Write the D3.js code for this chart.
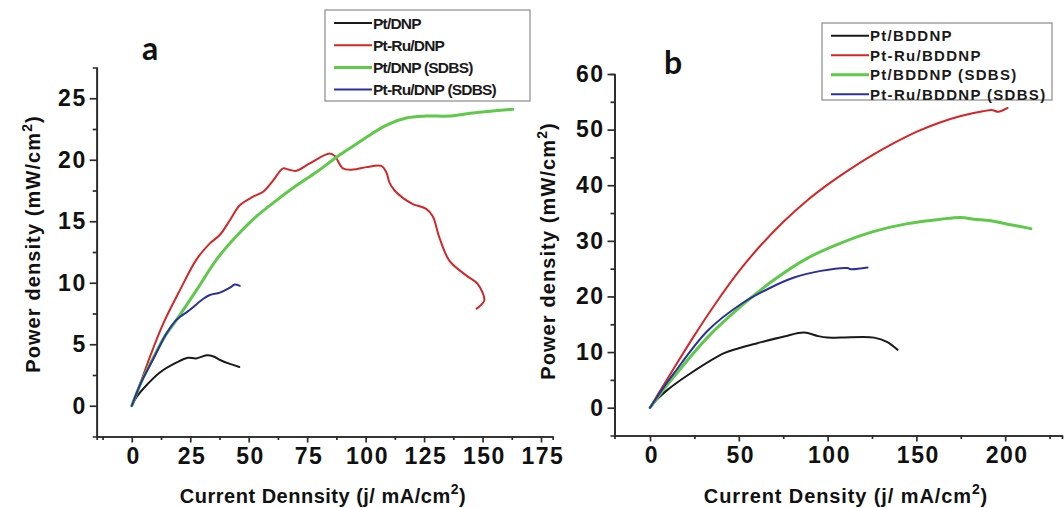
<!DOCTYPE html>
<html>
<head>
<meta charset="utf-8">
<script src="https://cdn.jsdelivr.net/npm/d3@7/dist/d3.min.js"></script>
<style>
  body { margin: 0; background: #fff; }
  svg { display: block; }
  .axis path, .axis line { stroke: #2a2a2a; stroke-width: 1.7; }
  .axis text { font-family: 'Liberation Sans', Arial, sans-serif; font-weight: bold; fill: #111; letter-spacing: 1.5px; }
</style>
</head>
<body>
<script>
// panel a series, [current density, power density]
const aPt = [[0, 0], [2, 0.7], [5, 1.4], [12, 2.7], [19, 3.5], [24, 3.9], [27.5, 3.85], [32, 4.1], [35, 4.0], [38, 3.7], [42, 3.4], [46, 3.15]]
const aPtRu = [[0, 0], [4, 2], [7.8, 4.0], [13.5, 6.7], [20.6, 9.4], [27.7, 11.9], [33.4, 13.2], [37.7, 13.9], [42, 15.1], [46.2, 16.3],
  [51.9, 17.0], [56.2, 17.4], [60.4, 18.3], [64.7, 19.3], [67, 19.2], [70.4, 19.1], [76.1, 19.7], [84.6, 20.5], [86.8, 20.3],
  [90.3, 19.3], [94.6, 19.2], [100.3, 19.4], [106.7, 19.5], [108.8, 19.0], [110.3, 18.1], [112.4, 17.5], [115.9, 16.9],
  [120.2, 16.4], [125.9, 16.0], [128.7, 15.4], [131.5, 13.7], [135.8, 11.8], [143, 10.6], [147.9, 9.9], [150.8, 8.6],
  [149.4, 8.2], [147.5, 7.9]]
const aPtSdbs = [[0, 0], [4, 1.9], [9.2, 3.9], [14, 5.6], [19.2, 7.0], [27.7, 9.4], [36.3, 11.9], [44.8, 13.8], [53.3, 15.4],
  [61.9, 16.7], [70.4, 17.9], [79, 19.0], [87.5, 20.2], [94.6, 21.1], [101.7, 22.0], [108.8, 22.8], [117.4, 23.4],
  [125.9, 23.55], [135.8, 23.55], [145.8, 23.8], [162.9, 24.1]]
const aPtRuSdbs = [[0, 0], [4, 1.9], [9.2, 3.8], [14.9, 5.9], [19.2, 7.0], [24.9, 7.8], [30.6, 8.7], [33.4, 9.0], [37.7, 9.2],
  [42, 9.6], [44, 9.85], [46.2, 9.75]]

// panel b series
const bPt = [[0, 0], [4, 1.5], [9.8, 3.2], [22.9, 6.2], [41.7, 9.8], [50, 10.7], [60.5, 11.6], [75.5, 12.8], [86.8, 13.5],
  [94.3, 12.9], [99.9, 12.6], [107.4, 12.6], [126.2, 12.6], [133.7, 11.8], [139.4, 10.4]]
const bPtRu = [[0, 0], [5, 2.7], [12.5, 6.6], [25, 13.0], [37.5, 19.0], [50, 24.5], [62.5, 29.25], [75, 33.4], [87.5, 37.0],
  [100, 40.1], [112.5, 42.85], [125, 45.35], [137.5, 47.6], [150, 49.6], [162.5, 51.2], [175, 52.45], [187.5, 53.3],
  [193, 53.5], [196, 53.2], [201.4, 53.9]]
const bPtSdbs = [[0, 0], [6, 2.6], [13.5, 5.6], [32.3, 12.6], [51.1, 18.2], [69.9, 23.0], [88.7, 26.9], [107.4, 29.6],
  [126.2, 31.7], [145, 33.1], [163.8, 33.9], [175, 34.2], [182.5, 33.9], [191.9, 33.6], [201.3, 33.0], [214.5, 32.2]]
const bPtRuSdbs = [[0, 0], [6, 2.9], [13.5, 6.2], [32.3, 13.8], [51.1, 18.6], [66.1, 21.3], [81.1, 23.4], [96.2, 24.6],
  [111.2, 25.1], [113, 24.9], [122.5, 25.2]]

const aNames = ['Pt/DNP', 'Pt-Ru/DNP', 'Pt/DNP (SDBS)', 'Pt-Ru/DNP (SDBS)']
const bNames = ['Pt/BDDNP', 'Pt-Ru/BDDNP', 'Pt/BDDNP (SDBS)', 'Pt-Ru/BDDNP (SDBS)']
const colors = ['#1a1a1a', '#d42626', '#5fc94a', '#2b309e']
const widths = [2, 2, 3, 2]

const aXTicks = [0, 25, 50, 75, 100, 125, 150, 175]
const aXMinor = [-12.5, 12.5, 37.5, 62.5, 87.5, 112.5, 137.5, 162.5]
const aYTicks = [0, 5, 10, 15, 20, 25]
const aYMinor = [2.5, 7.5, 12.5, 17.5, 22.5]
const bXTicks = [0, 50, 100, 150, 200]
const bXMinor = [25, 75, 125, 175, 225]
const bYTicks = [0, 10, 20, 30, 40, 50, 60]
const bYMinor = [5, 15, 25, 35, 45, 55]

const svg = d3.select('body').append('svg')
  .attr('width', 1064)
  .attr('height', 508)

const font = "'Liberation Sans', Arial, sans-serif"

const drawPanel = p => {
  const x = d3.scaleLinear().domain(p.xDomain).range(p.xRange)
  const y = d3.scaleLinear().domain(p.yDomain).range(p.yRange)
  const bottom = p.yRange[0]
  const left = p.xRange[0]

  // minor ticks first, then majors with labels
  svg.append('g').attr('class', 'axis')
    .attr('transform', `translate(0,${bottom})`)
    .call(d3.axisBottom(x).tickValues(p.xMinor).tickSize(3.5).tickFormat(''))
  const xa = svg.append('g').attr('class', 'axis')
    .attr('transform', `translate(0,${bottom})`)
    .call(d3.axisBottom(x).tickValues(p.xTicks).tickSizeInner(6).tickSizeOuter(0).tickPadding(5))
    .attr('font-size', 23)
  xa.selectAll('text').attr('dx', '0.06em')
  svg.append('g').attr('class', 'axis')
    .attr('transform', `translate(${left},0)`)
    .call(d3.axisLeft(y).tickValues(p.yMinor).tickSize(4).tickFormat(''))
  svg.append('g').attr('class', 'axis')
    .attr('transform', `translate(${left},0)`)
    .call(d3.axisLeft(y).tickValues(p.yTicks).tickSizeInner(7).tickSizeOuter(0).tickPadding(3))
    .attr('font-size', 23)

  const line = d3.line()
    .x(d => x(d[0]))
    .y(d => y(d[1]))
    .curve(d3.curveCatmullRom.alpha(0.5))

  p.series.forEach((s, i) => {
    svg.append('path')
      .datum(s)
      .attr('fill', 'none')
      .attr('stroke', colors[i])
      .attr('stroke-width', widths[i])
      .attr('stroke-linejoin', 'round')
      .attr('stroke-linecap', 'round')
      .attr('d', line)
  })

  // axis titles
  const yt = svg.append('text')
    .attr('transform', `translate(${p.yTitle[0]},${p.yTitle[1]}) rotate(-90)`)
    .attr('text-anchor', 'middle')
    .attr('font-family', font)
    .attr('font-weight', 'bold')
    .attr('font-size', 20)
    .attr('letter-spacing', p.yTitleSpacing)
    .attr('fill', '#111')
  yt.append('tspan').text('Power density (mW/cm')
  yt.append('tspan').text('2').attr('font-size', 14).attr('dy', -8)
  yt.append('tspan').text(')').attr('dy', 8)

  const xt = svg.append('text')
    .attr('x', p.xTitle[0])
    .attr('y', p.xTitle[1])
    .attr('text-anchor', 'middle')
    .attr('font-family', font)
    .attr('font-weight', 'bold')
    .attr('font-size', 20)
    .attr('letter-spacing', p.xTitleSpacing)
    .attr('fill', '#111')
  xt.append('tspan').text(p.xTitleText)
  xt.append('tspan').text('2').attr('font-size', 14).attr('dy', -9)
  xt.append('tspan').text(')').attr('dy', 9)

  svg.append('text')
    .attr('x', p.label[0])
    .attr('y', p.label[1])
    .attr('text-anchor', 'middle')
    .attr('font-family', 'Lato, sans-serif')
    .attr('font-weight', 'bold')
    .attr('font-size', 32)
    .attr('fill', '#111')
    .text(p.labelText)

  // legend
  const lg = p.legend
  svg.append('rect')
    .attr('x', lg.x).attr('y', lg.y)
    .attr('width', lg.w).attr('height', lg.h)
    .attr('fill', '#fff')
    .attr('stroke', '#8a8a8a')
    .attr('stroke-width', 1.2)
  p.names.forEach((n, i) => {
    const ry = lg.y + lg.first + i * lg.step
    svg.append('line')
      .attr('x1', lg.x + 9).attr('x2', lg.x + 9 + lg.len)
      .attr('y1', ry).attr('y2', ry)
      .attr('stroke', colors[i])
      .attr('stroke-width', widths[i] === 3 ? 3 : 2)
    svg.append('text')
      .attr('x', lg.x + 10 + lg.len)
      .attr('y', ry)
      .attr('dy', '0.36em')
      .attr('font-family', font)
      .attr('font-weight', 'bold')
      .attr('font-size', lg.fs)
      .attr('letter-spacing', lg.ls)
      .attr('fill', '#1a1a1a')
      .text(n)
  })
}

drawPanel({
  xDomain: [-15, 180], xRange: [96.7, 552.7],
  yDomain: [-2.5, 27.5], yRange: [436.5, 67.5],
  xTicks: aXTicks, xMinor: aXMinor, yTicks: aYTicks, yMinor: aYMinor,
  series: [aPt, aPtRu, aPtSdbs, aPtRuSdbs],
  names: aNames,
  yTitle: [40, 244], yTitleSpacing: 1.1,
  xTitle: [323, 503], xTitleText: 'Current Dennsity (j/ mA/cm', xTitleSpacing: 0.5,
  label: [150, 60], labelText: 'a',
  legend: { x: 325, y: 10, w: 205, h: 91, first: 13, step: 22.2, len: 38, fs: 15.5, ls: -0.8 }
})

drawPanel({
  xDomain: [-20, 232], xRange: [614.5, 1062],
  yDomain: [-5, 60], yRange: [435.5, 74],
  xTicks: bXTicks, xMinor: bXMinor, yTicks: bYTicks, yMinor: bYMinor,
  series: [bPt, bPtRu, bPtSdbs, bPtRuSdbs],
  names: bNames,
  yTitle: [555, 251], yTitleSpacing: 1.1,
  xTitle: [846, 503], xTitleText: 'Current Density (j/ mA/cm', xTitleSpacing: 0.9,
  label: [673, 74], labelText: 'b',
  legend: { x: 822, y: 23, w: 230, h: 77, first: 12.7, step: 19.5, len: 38, fs: 15, ls: 1.3 }
})
</script>
</body>
</html>
